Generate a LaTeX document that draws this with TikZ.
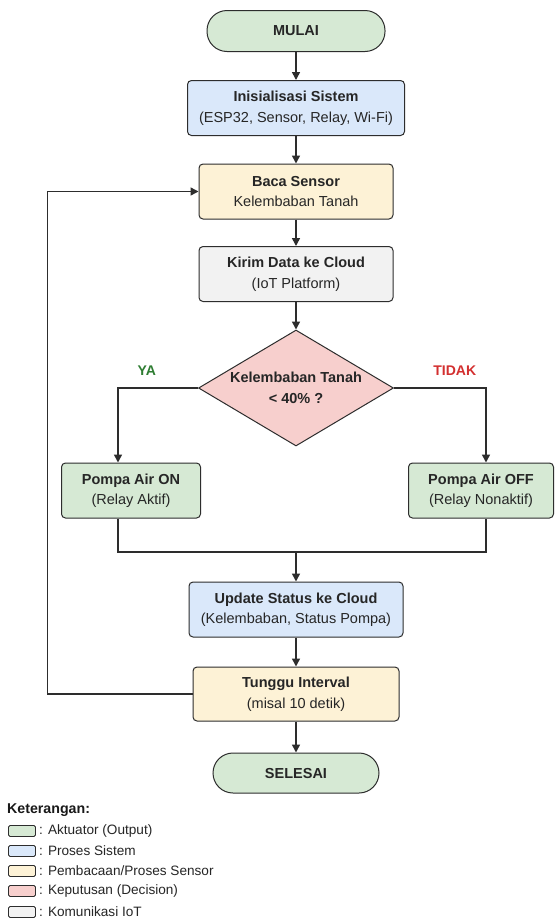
\documentclass[tikz,border=0pt]{standalone}
\usepackage{fontspec}
\setmainfont{Liberation Sans}
\usepackage{tikz}
\usetikzlibrary{arrows.meta,shapes.geometric,positioning}
\usepackage{xcolor}
\definecolor{fcgreen}{RGB}{214,233,212}
\definecolor{fcblue}{RGB}{218,232,250}
\definecolor{fcyellow}{RGB}{253,242,214}
\definecolor{fcred}{RGB}{247,207,205}
\definecolor{fcgray}{RGB}{242,242,242}
\definecolor{fcline}{RGB}{45,45,45}
\definecolor{fcyes}{RGB}{46,125,50}
\definecolor{fcno}{RGB}{211,47,47}
\tikzstyle{arrow} = [line width=1.5pt,-{Triangle[length=8pt,width=8pt]},color=fcline]
\tikzstyle{plainline} = [line width=1.5pt,color=fcline]
\tikzstyle{flowbox} = [rectangle, rounded corners=4pt, minimum height=55pt, text centered, align=center, draw=fcline, line width=1pt, inner sep=0pt, text=black!85, font=\fontsize{14.5}{20.5}\selectfont]
\tikzstyle{terminal} = [flowbox, rounded corners=20pt, minimum height=41pt, fill=fcgreen]
\tikzstyle{decision} = [diamond, aspect=1.68, inner sep=0pt, minimum width=195pt, minimum height=116pt, text centered, align=center, draw=fcline, line width=1pt, fill=fcred, text=black!85, font=\fontsize{14.5}{20.5}\selectfont]
\tikzstyle{legendbox} = [rectangle, rounded corners=1.5pt, draw=fcline, line width=0.8pt, minimum width=27pt, minimum height=11pt, inner sep=0pt]
\tikzstyle{legendtext} = [anchor=west, inner sep=0pt, text=black!85, font=\fontsize{13.6}{15}\selectfont]

\begin{document}
\begin{tikzpicture}[x=1pt, y=-1pt]
    \useasboundingbox[fill=white] (0,0) rectangle (556,919);

    % Main column
    \node[terminal, minimum width=178pt] (mulai) at (296, 31) {\textbf{MULAI}};
    \node[flowbox, minimum width=217pt, fill=fcblue] (init) at (296, 108) {\textbf{Inisialisasi Sistem}\\(ESP32, Sensor, Relay, Wi-Fi)};
    \node[flowbox, minimum width=194pt, fill=fcyellow] (baca) at (296, 191.5) {\textbf{Baca Sensor}\\Kelembaban Tanah};
    \node[flowbox, minimum width=194pt, fill=fcgray] (kirim) at (296, 274) {\textbf{Kirim Data ke Cloud}\\(IoT Platform)};
    \node[decision] (cek) at (296, 388) {\textbf{Kelembaban Tanah}\\\textbf{< 40\% ?}};

    % Branches
    \node[flowbox, minimum width=139pt, fill=fcgreen] (pompaon) at (131, 490.5) {\textbf{Pompa Air ON}\\(Relay Aktif)};
    \node[flowbox, minimum width=145pt, fill=fcgreen] (pompaoff) at (481, 490.5) {\textbf{Pompa Air OFF}\\(Relay Nonaktif)};
    \coordinate (merge) at (296, 552);

    \node[flowbox, minimum width=214pt, fill=fcblue] (update) at (296, 609.5) {\textbf{Update Status ke Cloud}\\(Kelembaban, Status Pompa)};
    \node[flowbox, minimum width=206pt, minimum height=54pt, fill=fcyellow] (tunggu) at (296, 694) {\textbf{Tunggu Interval}\\(misal 10 detik)};
    \node[terminal, minimum width=166pt, minimum height=40pt] (selesai) at (296, 773) {\textbf{SELESAI}};

    % Arrows
    \draw[arrow] (mulai) -- (init);
    \draw[arrow] (init) -- (baca);
    \draw[arrow] (baca) -- (kirim);
    \draw[arrow] (kirim) -- (cek);
    \draw[arrow] (cek.west) -| node[pos=0.32, above=8pt, text=fcyes, font=\fontsize{14}{15}\selectfont\bfseries] {YA} ([xshift=-13pt]pompaon.north);
    \draw[arrow] (cek.east) -| node[pos=0.33, above=8pt, text=fcno, font=\fontsize{14}{15}\selectfont\bfseries] {TIDAK} ([xshift=5pt]pompaoff.north);
    \draw[plainline] ([xshift=-13pt]pompaon.south) |- (merge) -| ([xshift=5pt]pompaoff.south);
    \draw[arrow] (merge) -- (update);
    \draw[arrow] (update) -- (tunggu);
    \draw[arrow] (tunggu) -- (selesai);

    % Loop back
    \draw[arrow] (tunggu.west) -- ++(-145,0) |- (baca.west);

    % Legend
    \node[anchor=west, inner sep=0pt, text=black!90, font=\fontsize{14.2}{15}\selectfont\bfseries] (ket) at (7, 810) {Keterangan:};
    \node[legendbox, fill=fcgreen] (lg1) at (22, 831) {};
    \node[legendbox, fill=fcblue] (lg2) at (22, 851) {};
    \node[legendbox, fill=fcyellow] (lg3) at (22, 871) {};
    \node[legendbox, fill=fcred] (lg4) at (22, 891) {};
    \node[legendbox, fill=fcgray] (lg5) at (22, 912) {};
    \node[legendtext] (lt1) at (39, 831) {: Aktuator (Output)};
    \node[legendtext] (lt2) at (39, 851) {: Proses Sistem};
    \node[legendtext] (lt3) at (39, 871) {: Pembacaan/Proses Sensor};
    \node[legendtext] (lt4) at (39, 891) {: Keputusan (Decision)};
    \node[legendtext] (lt5) at (39, 912) {: Komunikasi IoT};
\end{tikzpicture}
\end{document}
